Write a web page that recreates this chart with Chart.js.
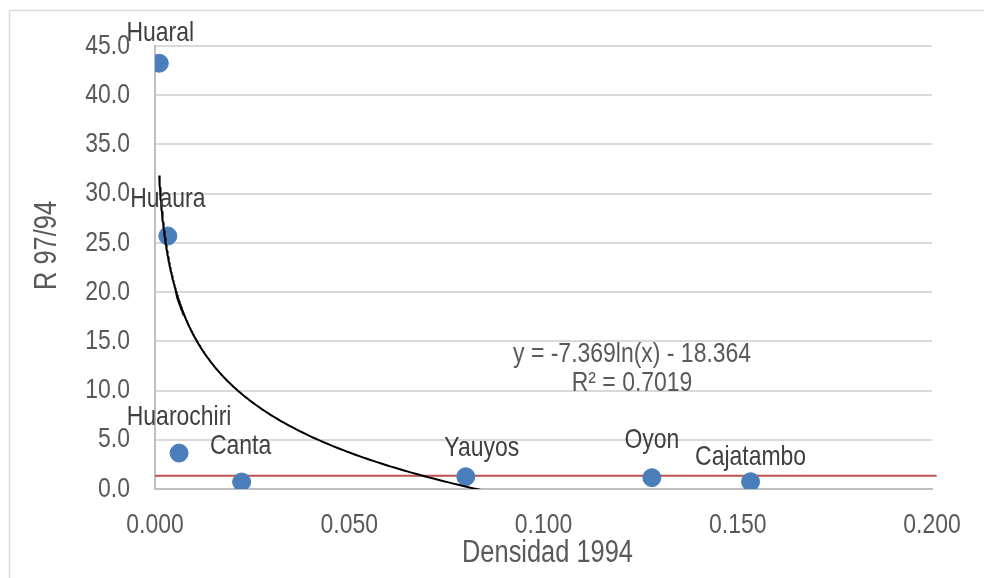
<!DOCTYPE html>
<html>
<head>
<meta charset="utf-8">
<script src="https://cdn.jsdelivr.net/npm/chart.js@4/dist/chart.umd.min.js"></script>
<style>
  html, body { margin: 0; padding: 0; background: #ffffff; }
  #wrap { width: 984px; height: 578px; }
</style>
</head>
<body>
<div id="wrap"><canvas id="c" width="984" height="578"></canvas></div>
<script>
// ---- data ----
const provinces = ["Huaral", "Huaura", "Huarochiri", "Canta", "Yauyos", "Oyon", "Cajatambo"];
const densidad1994 = [0.0011, 0.0033, 0.0062, 0.0223, 0.0800, 0.1279, 0.1533];
const r9794 = [43.25, 25.7, 3.65, 0.71, 1.25, 1.15, 0.74];
const referenceLevel = 1.35;
const trendA = -7.369;   // y = a ln(x) + b  (as printed on the chart)
const trendB = -18.364;
const trendText = ["y = -7.369ln(x) - 18.364", "R\u00b2 = 0.7019"];
const xTicks = [0, 0.05, 0.1, 0.15, 0.2];
const yTicks = [0, 5, 10, 15, 20, 25, 30, 35, 40, 45];
const xTitle = "Densidad 1994";
const yTitle = "R 97/94";

// ---- derived series ----
const points = densidad1994.map((x, i) => ({ x: x, y: r9794[i], label: provinces[i] }));
const xMin = Math.min(...densidad1994), xMax = Math.max(...densidad1994);
const trend = [];
for (let i = 0; i <= 300; i++) {
  const x = xMin * Math.pow(xMax / xMin, i / 300);
  trend.push({ x: x, y: trendA * Math.log(x) + trendB });
}
const refLine = [{ x: xTicks[0], y: referenceLevel }, { x: xTicks[xTicks.length - 1] * 1.006, y: referenceLevel }];

const FONT = '"Liberation Sans", Arial, sans-serif';
const NARROW = 0.82; // emulate Arial Narrow look

function narrowText(ctx, text, x, y, align) {
  ctx.save();
  ctx.translate(x, y);
  ctx.scale(NARROW, 1);
  ctx.textAlign = align || 'center';
  ctx.textBaseline = 'middle';
  ctx.fillText(text, 0, 0);
  ctx.restore();
}

const decorPlugin = {
  id: 'decor',
  beforeDraw(chart) {
    const ctx = chart.ctx;
    ctx.save();
    ctx.fillStyle = '#ffffff';
    ctx.fillRect(0, 0, chart.width, chart.height);
    ctx.strokeStyle = '#d9d9d9';
    ctx.lineWidth = 1.5;
    ctx.strokeRect(9.5, 10.5, chart.width + 20, chart.height + 20);
    ctx.restore();
  },
  afterDraw(chart, args, opts) {
    const ctx = chart.ctx;
    const xs = chart.scales.x, ys = chart.scales.y;
    const ca = chart.chartArea;
    ctx.save();
    // tick labels (positions from the library's scales)
    ctx.font = '28px ' + FONT;
    ctx.fillStyle = '#595959';
    xs.ticks.forEach(t => {
      narrowText(ctx, Number(t.value).toFixed(3), xs.getPixelForValue(t.value), ca.bottom + 36, 'center');
    });
    ys.ticks.forEach(t => {
      narrowText(ctx, Number(t.value).toFixed(1), ca.left - 25, ys.getPixelForValue(t.value), 'right');
    });
    // point labels
    ctx.fillStyle = '#404040';
    const meta = chart.getDatasetMeta(1);
    meta.data.forEach((el, i) => {
      const off = opts.labelOffsets[i];
      narrowText(ctx, provinces[i], el.x + off[0], el.y + off[1], 'center');
    });
    // trendline equation
    ctx.fillStyle = '#595959';
    const ex = xs.getPixelForValue(opts.eqPos[0]);
    const ey = ys.getPixelForValue(opts.eqPos[1]);
    narrowText(ctx, trendText[0], ex, ey, 'center');
    narrowText(ctx, trendText[1], ex, ey + 29, 'center');
    // axis titles
    ctx.font = '31px ' + FONT;
    narrowText(ctx, xTitle, (ca.left + ca.right) / 2 + 4, ca.bottom + 64, 'center');
    ctx.translate(47, (ca.top + ca.bottom) / 2 - 22);
    ctx.rotate(-Math.PI / 2);
    narrowText(ctx, yTitle, 0, 0, 'center');
    ctx.restore();
  }
};

new Chart(document.getElementById('c'), {
  type: 'scatter',
  data: {
    datasets: [
      {
        label: 'Tendencia',
        type: 'line',
        data: trend,
        borderColor: '#000000',
        borderWidth: 2,
        pointRadius: 0,
        fill: false,
        tension: 0,
        order: 0
      },
      {
        label: 'R 97/94',
        data: points,
        backgroundColor: '#4a7ebb',
        borderColor: '#4a7ebb',
        pointRadius: 9,
        pointHoverRadius: 9,
        order: 1
      },
      {
        label: 'Referencia',
        type: 'line',
        data: refLine,
        borderColor: '#c0504d',
        borderWidth: 2,
        pointRadius: 0,
        fill: false,
        clip: false,
        order: 2
      }
    ]
  },
  options: {
    responsive: false,
    animation: false,
    layout: { padding: { top: 46, right: 52, left: 0, bottom: 0 } },
    plugins: {
      legend: { display: false },
      tooltip: { enabled: false },
      decor: {
        labelOffsets: [[1, -30], [0, -37], [0, -36], [-1, -36], [16, -28], [0, -37], [0, -24]],
        eqPos: [0.1228, 13.7]
      }
    },
    scales: {
      x: {
        type: 'linear',
        min: xTicks[0],
        max: xTicks[xTicks.length - 1],
        afterBuildTicks(scale) { scale.ticks = xTicks.map(v => ({ value: v })); },
        afterFit(scale) { scale.height = 89; },
        ticks: { display: false },
        grid: { display: true, drawOnChartArea: false, drawTicks: false, color: '#bfbfbf' },
        border: { display: true, color: '#bfbfbf', width: 2 }
      },
      y: {
        type: 'linear',
        min: yTicks[0],
        max: yTicks[yTicks.length - 1],
        afterBuildTicks(scale) { scale.ticks = yTicks.map(v => ({ value: v })); },
        afterFit(scale) { scale.width = 155; },
        ticks: { display: false },
        grid: { color: '#d9d9d9', lineWidth: 2, drawTicks: false },
        border: { display: true, color: '#bfbfbf', width: 2 }
      }
    }
  },
  plugins: [decorPlugin]
});
</script>
</body>
</html>
